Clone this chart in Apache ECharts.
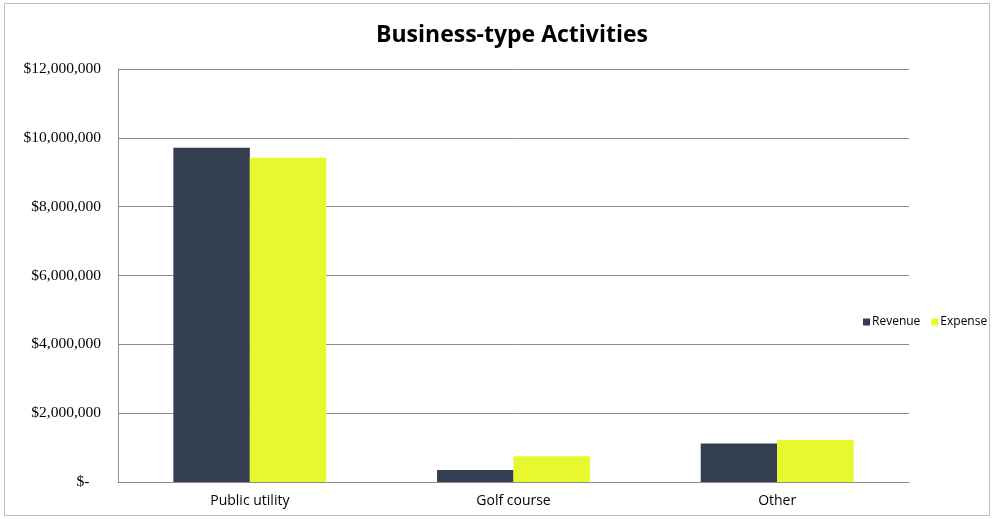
<!DOCTYPE html>
<html>
<head>
<meta charset="utf-8">
<script src="https://cdn.jsdelivr.net/npm/echarts@6/dist/echarts.min.js"></script>
<style>
  html, body { margin: 0; padding: 0; background: #fff; }
  #chart { position: absolute; left: 4px; top: 3px; width: 986px; height: 513px; border: 1px solid #bfbfbf; box-sizing: border-box; }
</style>
</head>
<body>
<div id="chart"></div>
<script>
const categories = ['Public utility', 'Golf course', 'Other']
const revenue = [9710000, 350000, 1120000]
const expense = [9420000, 750000, 1220000]

const chart = echarts.init(document.getElementById('chart'))

const money = v => {
  if (v === 0) return '$-   '
  return '$' + v.toLocaleString('en-US')
}

chart.setOption({
  animation: false,
  title: {
    text: 'Business-type Activities',
    left: 502,
    top: 15,
    textAlign: 'center',
    textStyle: { fontFamily: 'Open Sans', fontWeight: 'bold', fontSize: 23, color: '#000' }
  },
  legend: {
    orient: 'horizontal',
    left: 853,
    top: 307,
    width: 140,
    itemWidth: 7,
    itemHeight: 7,
    itemGap: 11,
    icon: 'rect',
    textStyle: { fontFamily: 'Open Sans', fontSize: 12, color: '#000', padding: [0, 0, 0, -3] },
    data: ['Revenue', 'Expense']
  },
  grid: { left: 113, right: 80, top: 65, bottom: 33, containLabel: false },
  xAxis: {
    type: 'category',
    data: categories,
    axisTick: { show: false },
    axisLine: { lineStyle: { color: '#8c8c8c' } },
    axisLabel: { fontFamily: 'Open Sans', fontSize: 14, color: '#000', margin: 12 }
  },
  yAxis: {
    type: 'value',
    min: 0,
    max: 12000000,
    interval: 2000000,
    axisLine: { show: true, lineStyle: { color: '#8c8c8c' } },
    axisTick: { show: false },
    splitLine: { lineStyle: { color: '#8c8c8c' } },
    axisLabel: { fontFamily: 'Liberation Serif', fontSize: 15.5, color: '#000', margin: 17, formatter: money }
  },
  series: [
    {
      name: 'Revenue',
      type: 'bar',
      data: revenue,
      barGap: '0%',
      barCategoryGap: '42%',
      itemStyle: { color: '#333f50' }
    },
    {
      name: 'Expense',
      type: 'bar',
      data: expense,
      itemStyle: { color: '#e8f82e' }
    }
  ]
})
</script>
</body>
</html>
